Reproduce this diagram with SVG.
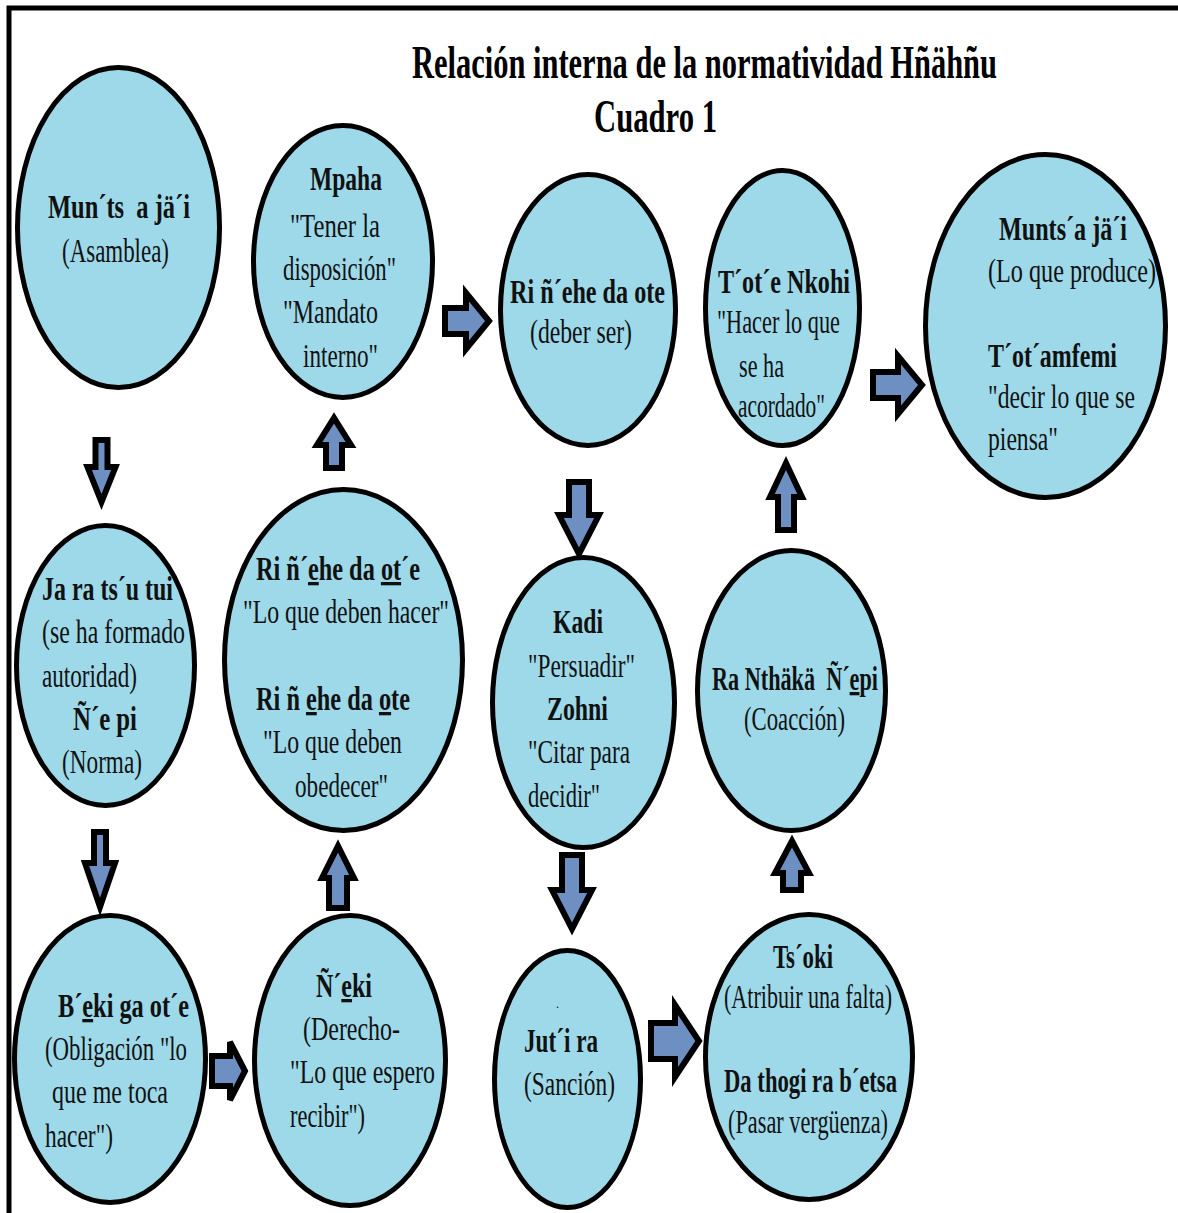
<svg xmlns="http://www.w3.org/2000/svg" width="1178" height="1213" viewBox="0 0 1178 1213">
<style>
.n{fill:#9dd9e9;stroke:#000;stroke-width:5}
.a{fill:#6d8fc2;stroke:#000;stroke-width:6;stroke-linejoin:miter}
text{font-family:"Liberation Serif","Times New Roman",serif;font-size:33px;fill:#111}
.b{font-weight:bold}
.ti{font-size:47px;font-weight:bold;fill:#000}
</style>
<rect x="0" y="0" width="1178" height="1213" fill="#fff"/>
<rect x="9" y="8" width="1180" height="1220" fill="none" stroke="#000" stroke-width="5"/>
<g id="title">
<text class="ti" x="412" y="78" textLength="585" lengthAdjust="spacingAndGlyphs">Relación interna de la normatividad Hñähñu</text>
<text class="ti" x="594" y="132" textLength="123" lengthAdjust="spacingAndGlyphs">Cuadro 1</text>
</g>
<g id="connectors">
<path class="a" d="M95.5,440 H107.5 V467 H115.5 L101.5,502 L87.5,467 H95.5 Z"/>
<path class="a" d="M94,832 H106 V863 H115 L100,907 L85,863 H94 Z"/>
<path class="a" d="M569,482 H589 V515 H599 L579,554 L559,515 H569 Z"/>
<path class="a" d="M562,855 H582 V890 H592 L572,929 L552,890 H562 Z"/>
<path class="a" d="M326,468 H342 V445 H351 L334,418 L317,445 H326 Z"/>
<path class="a" d="M778,530 H794 V497 H802 L786,463 L770,497 H778 Z"/>
<path class="a" d="M329,908 H347 V878 H354 L338,846 L322,878 H329 Z"/>
<path class="a" d="M783,890 H801 V873 H809 L792,841 L775,873 H783 Z"/>
<path class="a" d="M445,308 H466 V293 L489,321 L466,349 V334 H445 Z"/>
<path class="a" d="M873,372 H898 V356 L922,385 L898,414 V398 H873 Z"/>
<path class="a" d="M212,1056 H230 V1042 L245,1071 L230,1100 V1086 H212 Z"/>
<path class="a" d="M651,1023 H675 V1005 L699,1041 L675,1077 V1059 H651 Z"/>
</g>
<g id="n1">
<ellipse class="n" cx="118.5" cy="227.5" rx="101" ry="160"/>
<text class="b" x="48" y="218" textLength="142" lengthAdjust="spacingAndGlyphs" xml:space="preserve">Mun´ts  a jä´i</text>
<text x="62" y="262" textLength="107" lengthAdjust="spacingAndGlyphs">(Asamblea)</text>
</g>
<g id="n2">
<ellipse class="n" cx="343" cy="261.5" rx="89.5" ry="136"/>
<text class="b" x="310" y="190" textLength="72" lengthAdjust="spacingAndGlyphs">Mpaha</text>
<text x="290" y="237" textLength="90" lengthAdjust="spacingAndGlyphs">"Tener la</text>
<text x="283" y="280" textLength="113" lengthAdjust="spacingAndGlyphs">disposición"</text>
<text x="283" y="323" textLength="95" lengthAdjust="spacingAndGlyphs">"Mandato</text>
<text x="303" y="367" textLength="75" lengthAdjust="spacingAndGlyphs">interno"</text>
</g>
<g id="n3">
<ellipse class="n" cx="588" cy="310" rx="87.5" ry="135.5"/>
<text class="b" x="510" y="303" textLength="155" lengthAdjust="spacingAndGlyphs">Ri ñ´ehe da ote</text>
<text x="530" y="343" textLength="102" lengthAdjust="spacingAndGlyphs">(deber ser)</text>
</g>
<g id="n4">
<ellipse class="n" cx="782.5" cy="308" rx="77" ry="137.5"/>
<text class="b" x="718" y="293" textLength="132" lengthAdjust="spacingAndGlyphs">T´ot´e Nkohi</text>
<text x="717" y="333" textLength="123" lengthAdjust="spacingAndGlyphs">"Hacer lo que</text>
<text x="739" y="377" textLength="45" lengthAdjust="spacingAndGlyphs">se ha</text>
<text x="738" y="417" textLength="87" lengthAdjust="spacingAndGlyphs">acordado"</text>
</g>
<g id="n5">
<ellipse class="n" cx="1045.5" cy="326" rx="120" ry="171.5"/>
<text class="b" x="999" y="240" textLength="128" lengthAdjust="spacingAndGlyphs">Munts´a jä´i</text>
<text x="988" y="282" textLength="168" lengthAdjust="spacingAndGlyphs">(Lo que produce)</text>
<text class="b" x="988" y="367" textLength="129" lengthAdjust="spacingAndGlyphs">T´ot´amfemi</text>
<text x="988" y="408" textLength="147" lengthAdjust="spacingAndGlyphs">"decir lo que se</text>
<text x="988" y="450" textLength="70" lengthAdjust="spacingAndGlyphs">piensa"</text>
</g>
<g id="n6">
<ellipse class="n" cx="105.5" cy="665.5" rx="89" ry="140"/>
<text class="b" x="42" y="600" textLength="131" lengthAdjust="spacingAndGlyphs">Ja ra ts´u tui</text>
<text x="42" y="643" textLength="143" lengthAdjust="spacingAndGlyphs">(se ha formado</text>
<text x="42" y="687" textLength="95" lengthAdjust="spacingAndGlyphs">autoridad)</text>
<text class="b" x="73" y="730" textLength="64" lengthAdjust="spacingAndGlyphs">Ñ´e pi</text>
<text x="62" y="773" textLength="80" lengthAdjust="spacingAndGlyphs">(Norma)</text>
</g>
<g id="n7">
<ellipse class="n" cx="343.5" cy="660" rx="119" ry="170.5"/>
<text class="b" x="256" y="580" textLength="164" lengthAdjust="spacingAndGlyphs">Ri ñ´<tspan text-decoration="underline">e</tspan>he da <tspan text-decoration="underline">ot</tspan>´e</text>
<text x="243" y="623" textLength="206" lengthAdjust="spacingAndGlyphs">"Lo que deben hacer"</text>
<text class="b" x="256" y="710" textLength="154" lengthAdjust="spacingAndGlyphs">Ri ñ <tspan text-decoration="underline">e</tspan>he da <tspan text-decoration="underline">o</tspan>te</text>
<text x="263" y="753" textLength="139" lengthAdjust="spacingAndGlyphs">"Lo que deben</text>
<text x="295" y="797" textLength="93" lengthAdjust="spacingAndGlyphs">obedecer"</text>
</g>
<g id="n8">
<ellipse class="n" cx="583.5" cy="702.5" rx="91" ry="145"/>
<text class="b" x="553" y="633" textLength="50" lengthAdjust="spacingAndGlyphs">Kadi</text>
<text x="528" y="677" textLength="107" lengthAdjust="spacingAndGlyphs">"Persuadir"</text>
<text class="b" x="547" y="720" textLength="61" lengthAdjust="spacingAndGlyphs">Zohni</text>
<text x="528" y="763" textLength="102" lengthAdjust="spacingAndGlyphs">"Citar para</text>
<text x="528" y="807" textLength="72" lengthAdjust="spacingAndGlyphs">decidir"</text>
</g>
<g id="n9">
<ellipse class="n" cx="791.5" cy="690.5" rx="94" ry="140"/>
<text class="b" x="712" y="690" textLength="166" lengthAdjust="spacingAndGlyphs" xml:space="preserve">Ra Nthäkä  Ñ´<tspan text-decoration="underline">e</tspan>pi</text>
<text x="744" y="730" textLength="101" lengthAdjust="spacingAndGlyphs">(Coacción)</text>
</g>
<g id="n10">
<ellipse class="n" cx="110" cy="1059" rx="95.5" ry="143.5"/>
<text class="b" x="58" y="1017" textLength="131" lengthAdjust="spacingAndGlyphs">B´<tspan text-decoration="underline">e</tspan>ki ga ot´e</text>
<text x="45" y="1060" textLength="142" lengthAdjust="spacingAndGlyphs">(Obligación "lo</text>
<text x="52" y="1103" textLength="116" lengthAdjust="spacingAndGlyphs">que me toca</text>
<text x="45" y="1147" textLength="68" lengthAdjust="spacingAndGlyphs">hacer")</text>
</g>
<g id="n11">
<ellipse class="n" cx="350" cy="1060.5" rx="95.5" ry="145"/>
<text class="b" x="316" y="997" textLength="56" lengthAdjust="spacingAndGlyphs">Ñ´<tspan text-decoration="underline">e</tspan>ki</text>
<text x="303" y="1040" textLength="97" lengthAdjust="spacingAndGlyphs">(Derecho-</text>
<text x="290" y="1083" textLength="145" lengthAdjust="spacingAndGlyphs">"Lo que espero</text>
<text x="290" y="1127" textLength="75" lengthAdjust="spacingAndGlyphs">recibir")</text>
</g>
<g id="n12">
<ellipse class="n" cx="567.5" cy="1079" rx="73" ry="128.5"/>
<text x="556" y="1008" style="font-size:12px">.</text>
<text class="b" x="524" y="1052" textLength="74" lengthAdjust="spacingAndGlyphs">Jut´i ra</text>
<text x="524" y="1095" textLength="91" lengthAdjust="spacingAndGlyphs">(Sanción)</text>
</g>
<g id="n13">
<ellipse class="n" cx="809" cy="1057" rx="103.5" ry="142.5"/>
<text class="b" x="773" y="968" textLength="60" lengthAdjust="spacingAndGlyphs">Ts´oki</text>
<text x="724" y="1008" textLength="168" lengthAdjust="spacingAndGlyphs">(Atribuir una falta)</text>
<text class="b" x="724" y="1092" textLength="173" lengthAdjust="spacingAndGlyphs">Da thogi ra b´etsa</text>
<text x="728" y="1133" textLength="160" lengthAdjust="spacingAndGlyphs">(Pasar vergüenza)</text>
</g>
</svg>
